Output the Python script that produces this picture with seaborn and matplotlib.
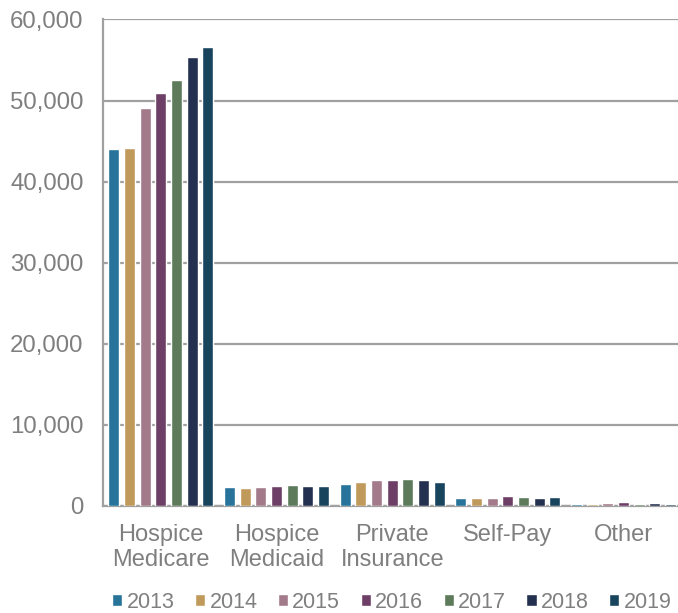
import pandas as pd
import matplotlib
matplotlib.use("Agg")
import matplotlib.pyplot as plt
import seaborn as sns
from matplotlib.ticker import FuncFormatter, FixedLocator

categories = ["Hospice\nMedicare", "Hospice\nMedicaid", "Private\nInsurance", "Self-Pay", "Other"]
years = ["2013", "2014", "2015", "2016", "2017", "2018", "2019"]

# one list per year, in category order
v2013 = [43980, 2300, 2750, 1030, 290]
v2014 = [44200, 2270, 2950, 1030, 290]
v2015 = [49050, 2340, 3200, 1030, 380]
v2016 = [50980, 2460, 3230, 1190, 430]
v2017 = [52580, 2620, 3350, 1070, 290]
v2018 = [55400, 2460, 3150, 990, 380]
v2019 = [56600, 2500, 2950, 1110, 290]

colors = ["#27739A", "#C09A5B", "#A27A8A", "#6D3F66", "#5D7B5A", "#24304F", "#19445E"]

values = [v2013, v2014, v2015, v2016, v2017, v2018, v2019]
rows = []
for y, vals in zip(years, values):
    for c, v in zip(categories, vals):
        rows.append({"category": c, "year": y, "count": v})
df = pd.DataFrame(rows)

sns.set_style("white")
plt.rcParams["font.family"] = ["Liberation Sans", "DejaVu Sans"]
txt = "#7F7F7F"
grid = "#A0A0A0"

fig = plt.figure(figsize=(6.78, 6.13), dpi=100)
ax = fig.add_axes([0.152, 0.1746, 0.853, 0.7936])

sns.barplot(data=df, x="category", y="count", hue="year", palette=colors,
            width=0.95, gap=0.3, saturation=1, ax=ax, legend=True, zorder=3)

ax.set_ylim(0, 60000)
ax.set_xlim(-0.5, 4.5)
ax.set_yticks(range(0, 60001, 10000))
ax.yaxis.set_major_formatter(FuncFormatter(lambda v, p: f"{int(v):,}"))
ax.yaxis.grid(True, color=grid, linewidth=1.6)
ax.set_axisbelow(True)
ax.set_xlabel("")
ax.set_ylabel("")

for s in ["top", "right"]:
    ax.spines[s].set_visible(False)
for s in ["left", "bottom"]:
    ax.spines[s].set_color(grid)
    ax.spines[s].set_linewidth(1.6)
    ax.spines[s].set_zorder(2)

ax.tick_params(axis="y", direction="inout", length=12, width=1.4, color=grid,
               labelcolor=txt, labelsize=17.3, pad=8)
ax.tick_params(axis="x", which="major", length=0, labelcolor=txt, labelsize=17, pad=13)
ax.xaxis.set_minor_locator(FixedLocator([-0.5, 0.5, 1.5, 2.5, 3.5]))
ax.tick_params(axis="x", which="minor", direction="out", length=6, width=1.4, color=grid)
for lab in ax.get_xticklabels():
    lab.set_linespacing(1.15)

handles, labels = ax.get_legend_handles_labels()
ax.get_legend().remove()
fig.legend(handles, labels, loc="lower center", bbox_to_anchor=(0.578, -0.017), ncol=7,
           frameon=False, fontsize=15.5, labelcolor=txt, handlelength=0.47, handleheight=0.47,
           handletextpad=0.2, columnspacing=0.95, borderaxespad=0.1)

fig.savefig("out.png", dpi=100)
